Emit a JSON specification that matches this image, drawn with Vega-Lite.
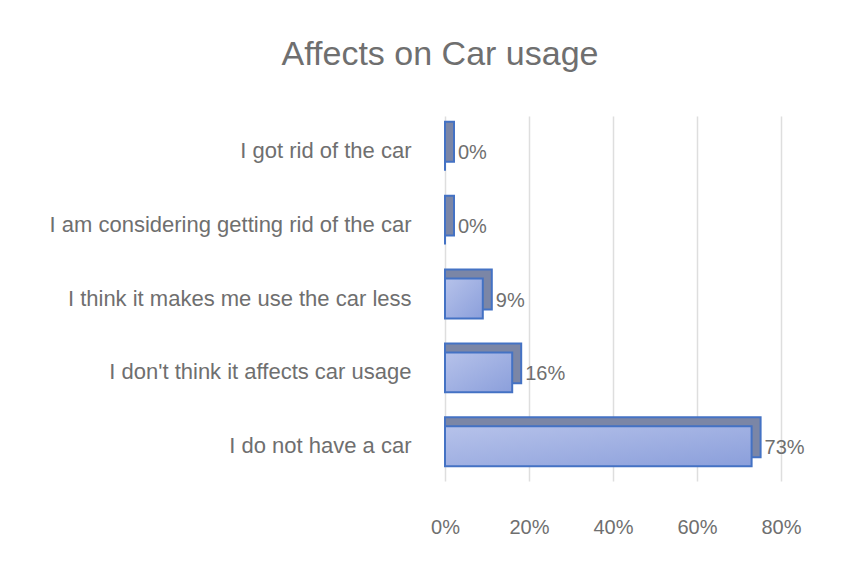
{
  "$schema": "https://vega.github.io/schema/vega-lite/v6.json",
  "autosize": "none",
  "width": 336,
  "height": 365,
  "padding": {"left": 445, "top": 116, "right": 82, "bottom": 100},
  "background": "white",
  "title": {
    "text": "Affects on Car usage",
    "fontSize": 34,
    "font": "Liberation Sans",
    "fontWeight": "normal",
    "color": "#6f6f6f",
    "anchor": "middle",
    "dx": -173,
    "offset": 44
  },
  "data": {
    "values": [
      {"answer": "I got rid of the car", "share": 0.0},
      {"answer": "I am considering getting rid of the car", "share": 0.0},
      {"answer": "I think it makes me use the car less", "share": 0.09},
      {"answer": "I don't think it affects car usage", "share": 0.16},
      {"answer": "I do not have a car", "share": 0.73}
    ]
  },
  "config": {
    "view": {"stroke": null},
    "axis": {"labelFont": "Liberation Sans", "labelColor": "#6f6f6f", "labelFontSize": 21}
  },
  "encoding": {
    "y": {
      "field": "answer",
      "type": "nominal",
      "sort": null,
      "title": null,
      "scale": {"paddingInner": 0.46, "paddingOuter": 0.2},
      "axis": {"domain": false, "ticks": false, "labelPadding": 34, "labelLimit": 0, "labelFontSize": 22}
    },
    "x": {
      "field": "share",
      "type": "quantitative",
      "stack": null,
      "title": null,
      "scale": {"domain": [0, 0.8], "nice": false},
      "axis": {
        "values": [0, 0.2, 0.4, 0.6, 0.8],
        "format": ".0%",
        "domain": false,
        "ticks": false,
        "labelFlush": false,
        "labelPadding": 36,
        "labelFontSize": 20,
        "gridColor": "#dedede",
        "gridWidth": 1.5
      }
    }
  },
  "layer": [
    {
      "mark": {"type": "bar", "fill": "#7b86a6", "stroke": "#4472C4", "strokeWidth": 2, "xOffset": 9, "x2Offset": 3, "yOffset": -9}
    },
    {
      "mark": {
        "type": "bar",
        "fill": {
          "gradient": "linear", "x1": 0, "y1": 0, "x2": 1, "y2": 1,
          "stops": [{"offset": 0, "color": "#b6c2ea"}, {"offset": 1, "color": "#8b9fdb"}]
        },
        "stroke": "#4472C4",
        "strokeWidth": 2
      }
    },
    {
      "mark": {"type": "text", "align": "left", "dx": 13, "dy": 2, "font": "Liberation Sans", "fontSize": 20, "color": "#6f6f6f"},
      "encoding": {"text": {"field": "share", "type": "quantitative", "format": ".0%"}}
    }
  ]
}
